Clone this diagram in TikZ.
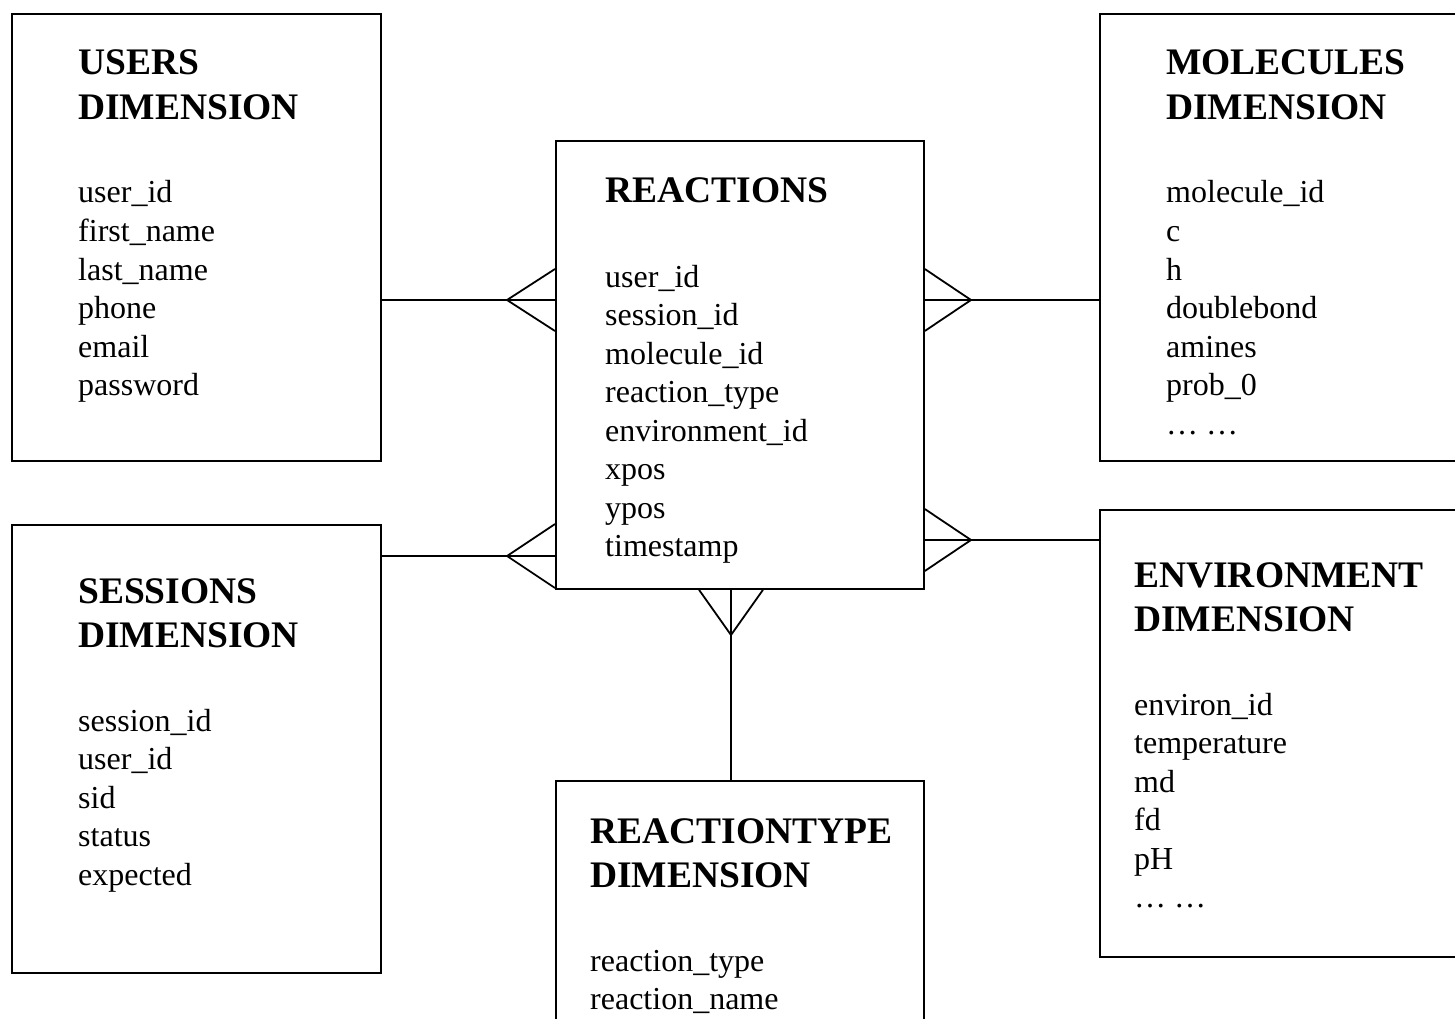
\documentclass[tikz,border=0pt]{standalone}
\usepackage{fontspec}
\setmainfont{Liberation Serif}
\begin{document}
\begin{tikzpicture}[x=1pt,y=-1pt,
  box/.style={draw, line width=1.8pt, anchor=north west, inner sep=0pt, rectangle},
  head/.style={anchor=base west, inner sep=0pt, font=\fontsize{37.5}{45}\selectfont\bfseries},
  field/.style={anchor=base west, inner sep=0pt, font=\fontsize{32}{38.5}\selectfont},
  link/.style={line width=1.8pt, line join=miter}]
\useasboundingbox (0,0) rectangle (1455,1019);
\clip (0,0) rectangle (1455,1019);
\fill[white] (0,0) rectangle (1455,1019);

% boxes
\node[box, minimum width=369pt, minimum height=447pt] (users) at (11,13) {};
\node[box, minimum width=369pt, minimum height=448pt] (sessions) at (11,524) {};
\node[box, minimum width=368pt, minimum height=448pt] (reactions) at (555,140) {};
\node[box, minimum width=368pt, minimum height=270pt] (rtype) at (555,780) {};
\node[box, minimum width=380pt, minimum height=447pt] (molecules) at (1099,13) {};
\node[box, minimum width=380pt, minimum height=447pt] (environment) at (1099,509) {};

% headers
\node[head] (usersh1) at (78,75) {USERS};
\node[head] (usersh2) at (78,120) {DIMENSION};
\node[head] (sessionsh1) at (78,603) {SESSIONS};
\node[head] (sessionsh2) at (78,647) {DIMENSION};
\node[head] (reactionsh) at (605,203) {REACTIONS};
\node[head] (rtypeh1) at (590,843) {REACTIONTYPE};
\node[head] (rtypeh2) at (590,887) {DIMENSION};
\node[head] (moleculesh1) at (1166,75) {MOLECULES};
\node[head] (moleculesh2) at (1166,120) {DIMENSION};
\node[head] (environmenth1) at (1134,587) {ENVIRONMENT};
\node[head] (environmenth2) at (1134,631) {DIMENSION};

% fields
\foreach \t [count=\i] in {user\_id, first\_name, last\_name, phone, email, password}
  \node[field] (usersf\i) at (78,{203+(\i-1)*38.5}) {\t};
\foreach \t [count=\i] in {session\_id, user\_id, sid, status, expected}
  \node[field] (sessionsf\i) at (78,{731+(\i-1)*38.5}) {\t};
\foreach \t [count=\i] in {user\_id, session\_id, molecule\_id, reaction\_type, environment\_id, xpos, ypos, timestamp}
  \node[field] (reactionsf\i) at (605,{287+(\i-1)*38.5}) {\t};
\foreach \t [count=\i] in {reaction\_type, reaction\_name}
  \node[field] (rtypef\i) at (590,{971+(\i-1)*38.5}) {\t};
\foreach \t [count=\i] in {molecule\_id, c, h, doublebond, amines, prob\_0, … …}
  \node[field] (moleculesf\i) at (1166,{203+(\i-1)*38.5}) {\t};
\foreach \t [count=\i] in {environ\_id, temperature, md, fd, pH, … …}
  \node[field] (environmentf\i) at (1134,{715+(\i-1)*38.5}) {\t};

% connectors with crow's feet
\coordinate (ua) at (507,300);
\draw[link] (users.east |- ua) -- (reactions.west |- ua);
\draw[link] (reactions.west |- 0,269) -- (ua) -- (reactions.west |- 0,331);

\coordinate (sa) at (507,556);
\draw[link] (sessions.east |- sa) -- (reactions.west |- sa);
\draw[link] (reactions.west |- 0,524) -- (sa) -- (reactions.west |- 0,588);

\coordinate (ma) at (971,300);
\draw[link] (reactions.east |- ma) -- (molecules.west |- ma);
\draw[link] (reactions.east |- 0,269) -- (ma) -- (reactions.east |- 0,331);

\coordinate (ea) at (971,540);
\draw[link] (reactions.east |- ea) -- (environment.west |- ea);
\draw[link] (reactions.east |- 0,509) -- (ea) -- (reactions.east |- 0,571);

\coordinate (ta) at (731,635);
\draw[link] (ta |- reactions.south) -- (ta |- rtype.north);
\draw[link] (699,0 |- reactions.south) -- (ta) -- (763,0 |- reactions.south);
\end{tikzpicture}
\end{document}
